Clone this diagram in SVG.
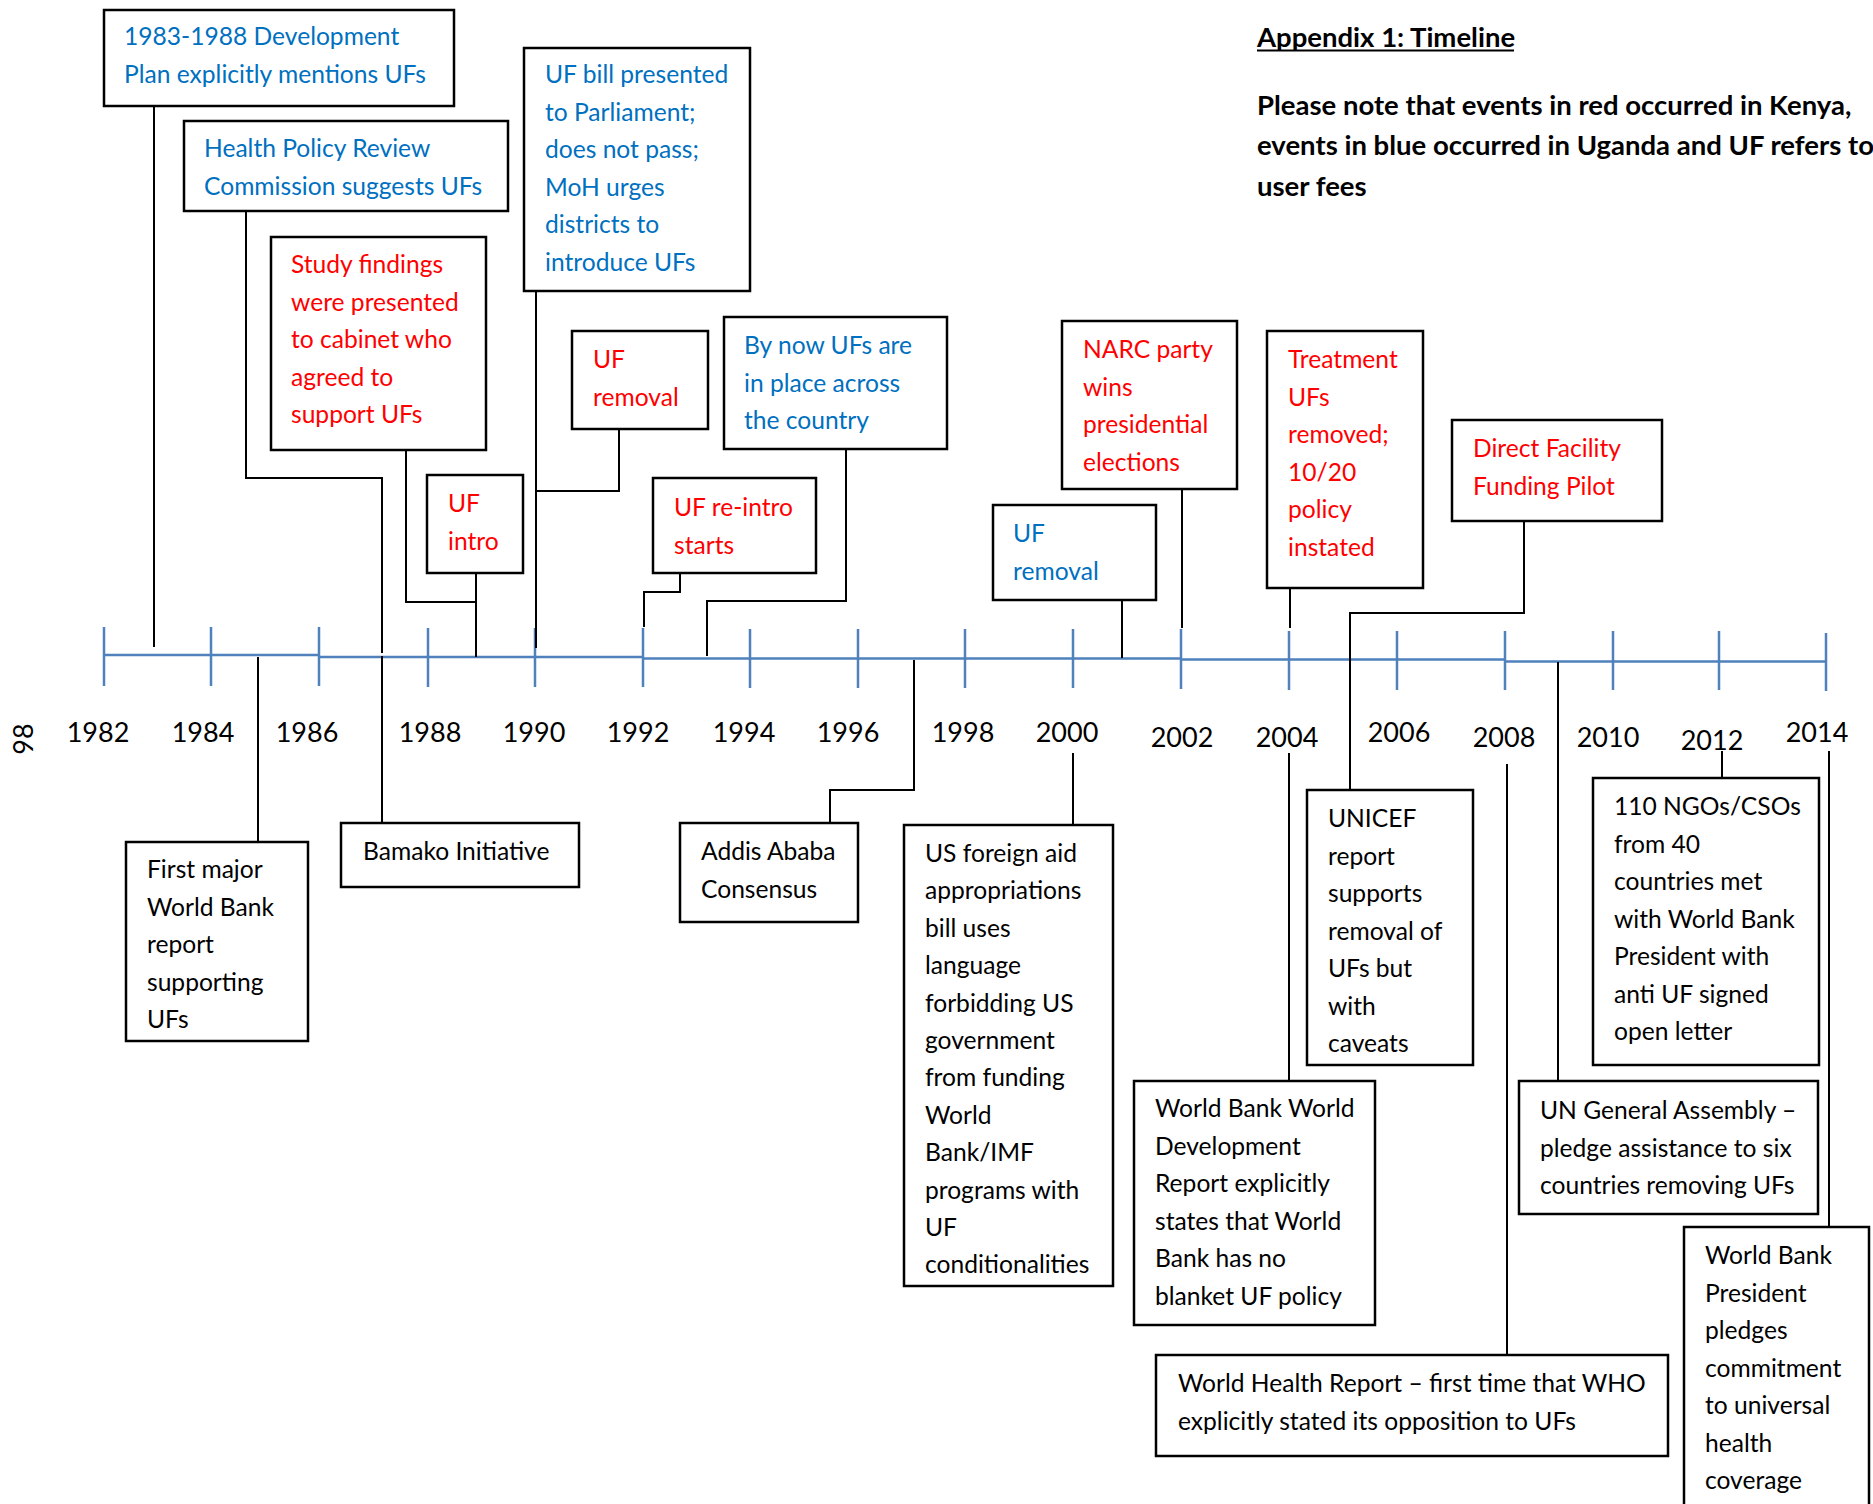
<svg xmlns="http://www.w3.org/2000/svg" width="1873" height="1504" viewBox="0 0 1873 1504">
<style>
.bg{fill:#fff}
.box{fill:#fff;stroke:#000;stroke-width:2.5}
.t{font-family:Lato,"Open Sans","Liberation Sans",sans-serif;font-size:24.6px}
.b{fill:#0070C0}
.r{fill:#FF0000}
.k{fill:#000}
.yr{font-family:Lato,"Open Sans","Liberation Sans",sans-serif;font-size:27px;fill:#000;text-anchor:middle}
.hd{font-family:Lato,"Open Sans","Liberation Sans",sans-serif;font-size:27.5px;font-weight:bold;fill:#000}
.conn{fill:none;stroke:#000;stroke-width:2}
.axis{fill:none;stroke:#4F81BD;stroke-width:2.5}
</style>
<rect class="bg" x="0" y="0" width="1873" height="1504"/>

<g id="header">
<text class="hd" x="1257" y="47">Appendix 1: Timeline</text>
<line x1="1257" y1="50.5" x2="1514" y2="50.5" stroke="#000" stroke-width="2"/>
<text class="hd" x="1257" y="115">Please note that events in red occurred in Kenya,</text>
<text class="hd" x="1257" y="155">events in blue occurred in Uganda and UF refers to</text>
<text class="hd" x="1257" y="196">user fees</text>
</g>

<g id="timeline">
<path class="axis" d="M104,655 H319 M319,657 H643 M643,658.5 H1181 M1181,659.5 H1505 M1505,661.5 H1826"/>
<path class="axis" d="M104,627 V686 M211,627 V686 M319,627 V686 M428,628 V687 M535,628 V687 M643,628 V687 M750,629 V688 M858,629 V688 M965,629 V688 M1073,629 V688 M1181,629 V689 M1289,631 V690 M1397,631 V690 M1505,631 V690 M1613,631 V690 M1719,631 V690 M1826,633 V691"/>
<text class="yr" x="98" y="742">1982</text>
<text class="yr" x="203" y="742">1984</text>
<text class="yr" x="307" y="742">1986</text>
<text class="yr" x="430" y="742">1988</text>
<text class="yr" x="534" y="742">1990</text>
<text class="yr" x="638" y="742">1992</text>
<text class="yr" x="744" y="742">1994</text>
<text class="yr" x="848" y="742">1996</text>
<text class="yr" x="963" y="742">1998</text>
<text class="yr" x="1067" y="742">2000</text>
<text class="yr" x="1182" y="747">2002</text>
<text class="yr" x="1287" y="747">2004</text>
<text class="yr" x="1399" y="742">2006</text>
<text class="yr" x="1504" y="747">2008</text>
<text class="yr" x="1608" y="747">2010</text>
<text class="yr" x="1712" y="750">2012</text>
<text class="yr" x="1817" y="742">2014</text>
<text class="yr" transform="translate(33,739) rotate(-90)" x="0" y="0">98</text>
</g>

<g id="connectors">
<path class="conn" d="M154,106 V647"/>
<path class="conn" d="M246,211 V478 H382 V653"/>
<path class="conn" d="M382,656 V823"/>
<path class="conn" d="M406,450 V602 H476"/>
<path class="conn" d="M476,573 V657"/>
<path class="conn" d="M536,291 V648"/>
<path class="conn" d="M619,429 V491 H536"/>
<path class="conn" d="M846,449 V601 H707 V656"/>
<path class="conn" d="M680,573 V592 H644 V627"/>
<path class="conn" d="M1182,489 V628"/>
<path class="conn" d="M1122,600 V658"/>
<path class="conn" d="M1290,588 V628"/>
<path class="conn" d="M1524,521 V613 H1350 V659"/>
<path class="conn" d="M1350,659 V790"/>
<path class="conn" d="M258,657 V842"/>
<path class="conn" d="M914,660 V790 H830 V823"/>
<path class="conn" d="M1073,753 V825"/>
<path class="conn" d="M1289,753 V1081"/>
<path class="conn" d="M1507,764 V1355"/>
<path class="conn" d="M1722,751 V778"/>
<path class="conn" d="M1558,662 V1081"/>
<path class="conn" d="M1829,751 V1227"/>
</g>

<g id="n-dev-plan">
<rect class="box" x="104" y="10" width="350" height="96"/>
<text class="t b" x="124" y="45">1983-1988 Development</text>
<text class="t b" x="124" y="83">Plan explicitly mentions UFs</text>
</g>
<g id="n-health-policy">
<rect class="box" x="184" y="121" width="324" height="90"/>
<text class="t b" x="204" y="157">Health Policy Review</text>
<text class="t b" x="204" y="195">Commission suggests UFs</text>
</g>
<g id="n-study-findings">
<rect class="box" x="271" y="237" width="215" height="213"/>
<text class="t r" x="291" y="273">Study findings</text>
<text class="t r" x="291" y="310.5">were presented</text>
<text class="t r" x="291" y="348">to cabinet who</text>
<text class="t r" x="291" y="385.5">agreed to</text>
<text class="t r" x="291" y="423">support UFs</text>
</g>
<g id="n-uf-intro">
<rect class="box" x="427" y="475" width="96" height="98"/>
<text class="t r" x="448" y="512">UF</text>
<text class="t r" x="448" y="549.5">intro</text>
</g>
<g id="n-uf-bill">
<rect class="box" x="524" y="48" width="226" height="243"/>
<text class="t b" x="545" y="83">UF bill presented</text>
<text class="t b" x="545" y="120.5">to Parliament;</text>
<text class="t b" x="545" y="158">does not pass;</text>
<text class="t b" x="545" y="195.5">MoH urges</text>
<text class="t b" x="545" y="233">districts to</text>
<text class="t b" x="545" y="271">introduce UFs</text>
</g>
<g id="n-uf-removal-ke">
<rect class="box" x="572" y="331" width="136" height="98"/>
<text class="t r" x="593" y="368">UF</text>
<text class="t r" x="593" y="406">removal</text>
</g>
<g id="n-by-now">
<rect class="box" x="724" y="317" width="223" height="132"/>
<text class="t b" x="744" y="354">By now UFs are</text>
<text class="t b" x="744" y="391.5">in place across</text>
<text class="t b" x="744" y="429">the country</text>
</g>
<g id="n-reintro">
<rect class="box" x="653" y="478" width="163" height="95"/>
<text class="t r" x="674" y="516">UF re-intro</text>
<text class="t r" x="674" y="553.5">starts</text>
</g>
<g id="n-narc">
<rect class="box" x="1062" y="321" width="175" height="168"/>
<text class="t r" x="1083" y="358">NARC party</text>
<text class="t r" x="1083" y="395.5">wins</text>
<text class="t r" x="1083" y="433">presidential</text>
<text class="t r" x="1083" y="470.5">elections</text>
</g>
<g id="n-uf-removal-ug">
<rect class="box" x="993" y="505" width="163" height="95"/>
<text class="t b" x="1013" y="542">UF</text>
<text class="t b" x="1013" y="579.5">removal</text>
</g>
<g id="n-treatment">
<rect class="box" x="1267" y="331" width="156" height="257"/>
<text class="t r" x="1288" y="368">Treatment</text>
<text class="t r" x="1288" y="405.5">UFs</text>
<text class="t r" x="1288" y="443">removed;</text>
<text class="t r" x="1288" y="480.5">10/20</text>
<text class="t r" x="1288" y="518">policy</text>
<text class="t r" x="1288" y="555.5">instated</text>
</g>
<g id="n-dff">
<rect class="box" x="1452" y="420" width="210" height="101"/>
<text class="t r" x="1473" y="457">Direct Facility</text>
<text class="t r" x="1473" y="494.5">Funding Pilot</text>
</g>
<g id="n-first-wb">
<rect class="box" x="126" y="842" width="182" height="199"/>
<text class="t k" x="147" y="878">First major</text>
<text class="t k" x="147" y="915.5">World Bank</text>
<text class="t k" x="147" y="953">report</text>
<text class="t k" x="147" y="990.5">supporting</text>
<text class="t k" x="147" y="1028">UFs</text>
</g>
<g id="n-bamako">
<rect class="box" x="341" y="823" width="238" height="64"/>
<text class="t k" x="363" y="860">Bamako Initiative</text>
</g>
<g id="n-addis">
<rect class="box" x="680" y="823" width="178" height="99"/>
<text class="t k" x="701" y="860">Addis Ababa</text>
<text class="t k" x="701" y="897.5">Consensus</text>
</g>
<g id="n-us-aid">
<rect class="box" x="904" y="825" width="209" height="461"/>
<text class="t k" x="925" y="862">US foreign aid</text>
<text class="t k" x="925" y="899.4">appropriations</text>
<text class="t k" x="925" y="936.8">bill uses</text>
<text class="t k" x="925" y="974.2">language</text>
<text class="t k" x="925" y="1011.6">forbidding US</text>
<text class="t k" x="925" y="1049">government</text>
<text class="t k" x="925" y="1086.4">from funding</text>
<text class="t k" x="925" y="1123.8">World</text>
<text class="t k" x="925" y="1161.2">Bank/IMF</text>
<text class="t k" x="925" y="1198.6">programs with</text>
<text class="t k" x="925" y="1236">UF</text>
<text class="t k" x="925" y="1273.4">conditionalities</text>
</g>
<g id="n-wdr">
<rect class="box" x="1134" y="1081" width="241" height="244"/>
<text class="t k" x="1155" y="1117">World Bank World</text>
<text class="t k" x="1155" y="1154.5">Development</text>
<text class="t k" x="1155" y="1192">Report explicitly</text>
<text class="t k" x="1155" y="1229.5">states that World</text>
<text class="t k" x="1155" y="1267">Bank has no</text>
<text class="t k" x="1155" y="1304.5">blanket UF policy</text>
</g>
<g id="n-unicef">
<rect class="box" x="1307" y="790" width="166" height="275"/>
<text class="t k" x="1328" y="827">UNICEF</text>
<text class="t k" x="1328" y="864.5">report</text>
<text class="t k" x="1328" y="902">supports</text>
<text class="t k" x="1328" y="939.5">removal of</text>
<text class="t k" x="1328" y="977">UFs but</text>
<text class="t k" x="1328" y="1014.5">with</text>
<text class="t k" x="1328" y="1052">caveats</text>
</g>
<g id="n-whr">
<rect class="box" x="1156" y="1355" width="512" height="101"/>
<text class="t k" x="1178" y="1392">World Health Report – first time that WHO</text>
<text class="t k" x="1178" y="1429.5">explicitly stated its opposition to UFs</text>
</g>
<g id="n-ngos">
<rect class="box" x="1593" y="778" width="226" height="287"/>
<text class="t k" x="1614" y="815">110 NGOs/CSOs</text>
<text class="t k" x="1614" y="852.5">from 40</text>
<text class="t k" x="1614" y="890">countries met</text>
<text class="t k" x="1614" y="927.5">with World Bank</text>
<text class="t k" x="1614" y="965">President with</text>
<text class="t k" x="1614" y="1002.5">anti UF signed</text>
<text class="t k" x="1614" y="1040">open letter</text>
</g>
<g id="n-unga">
<rect class="box" x="1519" y="1081" width="299" height="133"/>
<text class="t k" x="1540" y="1119">UN General Assembly –</text>
<text class="t k" x="1540" y="1156.5">pledge assistance to six</text>
<text class="t k" x="1540" y="1194">countries removing UFs</text>
</g>
<g id="n-wb-president">
<rect class="box" x="1684" y="1227" width="185" height="310"/>
<text class="t k" x="1705" y="1264">World Bank</text>
<text class="t k" x="1705" y="1301.5">President</text>
<text class="t k" x="1705" y="1339">pledges</text>
<text class="t k" x="1705" y="1376.5">commitment</text>
<text class="t k" x="1705" y="1414">to universal</text>
<text class="t k" x="1705" y="1451.5">health</text>
<text class="t k" x="1705" y="1489">coverage</text>
</g>
</svg>
